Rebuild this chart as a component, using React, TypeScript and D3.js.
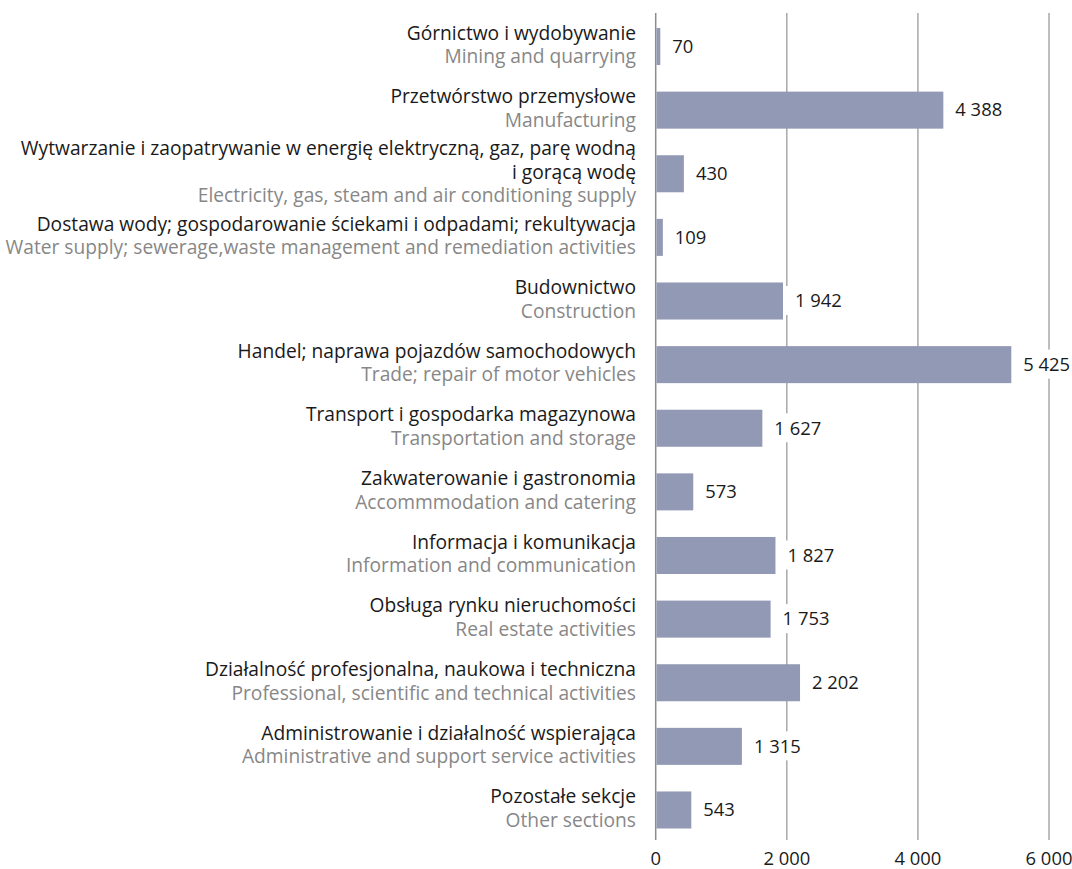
import React from 'react';
import * as d3 from 'd3';

const plLabels: string[][] = [
  ['Górnictwo i wydobywanie'],
  ['Przetwórstwo przemysłowe'],
  ['Wytwarzanie i zaopatrywanie w energię elektryczną, gaz, parę wodną', 'i gorącą wodę'],
  ['Dostawa wody; gospodarowanie ściekami i odpadami; rekultywacja'],
  ['Budownictwo'],
  ['Handel; naprawa pojazdów samochodowych'],
  ['Transport i gospodarka magazynowa'],
  ['Zakwaterowanie i gastronomia'],
  ['Informacja i komunikacja'],
  ['Obsługa rynku nieruchomości'],
  ['Działalność profesjonalna, naukowa i techniczna'],
  ['Administrowanie i działalność wspierająca'],
  ['Pozostałe sekcje'],
];

const enLabels: string[] = [
  'Mining and quarrying',
  'Manufacturing',
  'Electricity, gas, steam and air conditioning supply',
  'Water supply; sewerage,waste management and remediation activities',
  'Construction',
  'Trade; repair of motor vehicles',
  'Transportation and storage',
  'Accommmodation and catering',
  'Information and communication',
  'Real estate activities',
  'Professional, scientific and technical activities',
  'Administrative and support service activities',
  'Other sections',
];

const values: number[] = [70, 4388, 430, 109, 1942, 5425, 1627, 573, 1827, 1753, 2202, 1315, 543];

const tickValues: number[] = [0, 2000, 4000, 6000];

const locale = d3.formatLocale({ thousands: ' ', grouping: [3], decimal: ',', currency: ['', ''] });
const fmt = locale.format(',d');

const FONT = "'Open Sans', 'Noto Sans', sans-serif";

export default function App() {
  const W = 1072;
  const H = 869;
  const x = d3.scaleLinear().domain([0, 6000]).range([655.7, 1049]);
  const idx = d3.range(values.length);
  const y = d3
    .scaleBand<number>()
    .domain(idx)
    .range([14.7, 841.8])
    .paddingInner(0.418)
    .paddingOuter(0.209);
  const bw = y.bandwidth();
  const fsNum = 18.4;
  const fsLab = 19.2;
  const lineH = 23.6;

  const textWidth = (s: string) => {
    let w = 0;
    for (const c of s) w += c === ' ' ? 4.8 : 10.5;
    return w;
  };

  return (
    <svg width={W} height={H} style={{ position: 'absolute', left: 0, top: 0, background: '#fff' }}>
      {tickValues.map((t) => (
        <line
          key={'g' + t}
          x1={x(t)}
          x2={x(t)}
          y1={13}
          y2={840}
          stroke={t === 0 ? '#8c8c8c' : '#a8a8a8'}
          strokeWidth={1.5}
        />
      ))}
      {idx.map((i) => (
        <rect
          key={'b' + i}
          x={x(0) + 0.75}
          y={y(i)!}
          width={Math.max(0, x(values[i]) - x(0) - 0.75)}
          height={bw}
          fill="#9299b4"
        />
      ))}
      {idx.map((i) => {
        const cy = y(i)! + bw / 2;
        const s = fmt(values[i]);
        const tx = x(values[i]) + 12;
        return (
          <g key={'v' + i}>
            <rect x={x(values[i]) + 3} y={cy - 15} width={textWidth(s) + 14} height={29} fill="#fff" />
            <text x={tx} y={cy + 6.3} fontSize={fsNum} fontFamily={FONT} fill="#1a1a1a">
              {s}
            </text>
          </g>
        );
      })}
      {idx.map((i) => {
        const cy = y(i)! + bw / 2;
        const lines = [...plLabels[i].map((t) => ({ t, en: false })), { t: enLabels[i], en: true }];
        const n = lines.length;
        return (
          <g key={'c' + i}>
            {lines.map((l, j) => (
              <text
                key={j}
                x={636}
                y={cy + (j - (n - 1) / 2) * lineH + 5}
                textAnchor="end"
                fontSize={fsLab}
                fontFamily={FONT}
                fill={l.en ? '#878787' : '#1a1a1a'}
              >
                {l.t}
              </text>
            ))}
          </g>
        );
      })}
      {tickValues.map((t) => (
        <text
          key={'t' + t}
          x={x(t)}
          y={864.5}
          textAnchor="middle"
          fontSize={fsNum}
          fontFamily={FONT}
          fill="#1a1a1a"
        >
          {fmt(t)}
        </text>
      ))}
    </svg>
  );
}
